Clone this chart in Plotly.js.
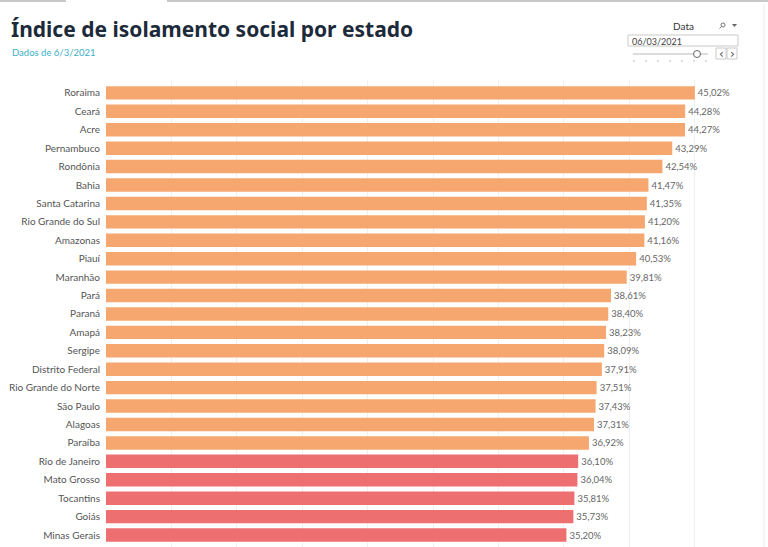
<!DOCTYPE html>
<html>
<head>
<meta charset="utf-8">
<script src="https://cdn.plot.ly/plotly-3.0.1.min.js"></script>
<style>html,body{margin:0;padding:0;background:#fff;}#chart{width:768px;height:547px;}</style>
</head>
<body>
<div id="chart"></div>
<script>
const states = ["Roraima","Ceará","Acre","Pernambuco","Rondônia","Bahia","Santa Catarina","Rio Grande do Sul","Amazonas","Piauí","Maranhão","Pará","Paraná","Amapá","Sergipe","Distrito Federal","Rio Grande do Norte","São Paulo","Alagoas","Paraíba","Rio de Janeiro","Mato Grosso","Tocantins","Goiás","Minas Gerais"];
const isolamento = [45.02,44.28,44.27,43.29,42.54,41.47,41.35,41.20,41.16,40.53,39.81,38.61,38.40,38.23,38.09,37.91,37.51,37.43,37.31,36.92,36.10,36.04,35.81,35.73,35.20];
const titleText = "Índice de isolamento social por estado";
const subtitleText = "Dados de 6/3/2021";
const filterLabel = "Data";
const filterValue = "06/03/2021";

const W = 768, H = 547;
const L = 106, R = 8, T = 80, B = 0;
const pw = W - L - R, ph = H - T - B;
const px = x => (x - L) / pw;
const py = y => (H - B - y) / ph;

const orange = "#F5A76F", red = "#EE6F70";
const colors = isolamento.map(v => v >= 36.5 ? orange : red);
const labels = isolamento.map(v => v.toFixed(2).replace('.', ',') + '%');

const trace = {
  type: 'bar', orientation: 'h',
  x: isolamento, y: states,
  marker: {color: colors, line: {width: 0}},
  text: labels, textposition: 'outside', cliponaxis: false,
  textfont: {family: 'Lato, "Noto Sans", sans-serif', size: 9.5, color: '#666'},
  hoverinfo: 'skip'
};

const shapes = [
  {type:'rect', xref:'paper', yref:'paper', x0:px(0), x1:px(66), y0:py(2), y1:py(0), fillcolor:'#c8c8c8', line:{width:0}},
  {type:'rect', xref:'paper', yref:'paper', x0:px(167), x1:px(768), y0:py(2), y1:py(0), fillcolor:'#c8c8c8', line:{width:0}},
  {type:'line', xref:'paper', yref:'paper', x0:px(764), x1:px(764), y0:py(547), y1:py(4), line:{color:'#ececec', width:1}},
  {type:'rect', xref:'paper', yref:'paper', x0:px(628), x1:px(738), y0:py(46), y1:py(35), fillcolor:'#fff', line:{color:'#c9c9c9', width:1}},
  {type:'line', xref:'paper', yref:'paper', x0:px(633), x1:px(708), y0:py(54), y1:py(54), line:{color:'#d0d0d0', width:1.5}},
  {type:'circle', xref:'paper', yref:'paper', x0:px(693.5), x1:px(700.5), y0:py(57.5), y1:py(50.5), fillcolor:'#fff', line:{color:'#666', width:1}},
  {type:'rect', xref:'paper', yref:'paper', x0:px(716), x1:px(726), y0:py(59), y1:py(48), fillcolor:'#fff', line:{color:'#c9c9c9', width:1}},
  {type:'rect', xref:'paper', yref:'paper', x0:px(727), x1:px(737), y0:py(59), y1:py(48), fillcolor:'#fff', line:{color:'#c9c9c9', width:1}},
  {type:'path', xref:'paper', yref:'paper', path:`M ${px(732)} ${py(24)} L ${px(737)} ${py(24)} L ${px(734.5)} ${py(27)} Z`, fillcolor:'#666', line:{width:0}},
  // magnifier
  {type:'circle', xref:'paper', yref:'paper', x0:px(721), x1:px(725), y0:py(27), y1:py(23), fillcolor:'rgba(0,0,0,0)', line:{color:'#777', width:1}},
  {type:'line', xref:'paper', yref:'paper', x0:px(721.5), x1:px(719.5), y0:py(26.5), y1:py(28.5), line:{color:'#777', width:1}}
];
[634, 646, 658, 670, 682, 694, 706].forEach(x => shapes.push({type:'line', xref:'paper', yref:'paper', x0:px(x), x1:px(x), y0:py(60), y1:py(62), line:{color:'#bbb', width:1}}));

const annotations = [
  {text: titleText, xref:'paper', yref:'paper', x:px(9), y:py(13), xanchor:'left', yanchor:'top', showarrow:false,
   font:{family:'"Noto Sans", Lato, sans-serif', size:21, color:'#1c2a3a', weight:'bold'}},
  {text: subtitleText, xref:'paper', yref:'paper', x:px(10), y:py(45), xanchor:'left', yanchor:'top', showarrow:false,
   font:{family:'Lato, "Noto Sans", sans-serif', size:9.5, color:'#3bafc8'}},
  {text: filterLabel, xref:'paper', yref:'paper', x:px(683), y:py(18), xanchor:'center', yanchor:'top', showarrow:false,
   font:{family:'Lato, "Noto Sans", sans-serif', size:10, color:'#333'}},
  {text: filterValue, xref:'paper', yref:'paper', x:px(630), y:py(34.5), xanchor:'left', yanchor:'top', showarrow:false,
   font:{family:'Lato, "Noto Sans", sans-serif', size:9, color:'#444'}},
  {text: '‹', xref:'paper', yref:'paper', x:px(721), y:py(53.5), xanchor:'center', yanchor:'middle', showarrow:false,
   font:{family:'"DejaVu Sans", sans-serif', size:12, color:'#555'}},
  {text: '›', xref:'paper', yref:'paper', x:px(732), y:py(53.5), xanchor:'center', yanchor:'middle', showarrow:false,
   font:{family:'"DejaVu Sans", sans-serif', size:12, color:'#555'}}
];

const layout = {
  width: W, height: H,
  margin: {l: L, r: R, t: T, b: B, pad: 0},
  paper_bgcolor: '#fff', plot_bgcolor: '#fff',
  showlegend: false,
  bargap: 0.27,
  xaxis: {range: [0, 50], dtick: 5, showgrid: true, gridcolor: '#f0f0f0', gridwidth: 1,
          zeroline: false, showticklabels: false, showline: false, fixedrange: true},
  yaxis: {type: 'category', categoryorder: 'array', categoryarray: states,
          range: [24.65, -0.7], showgrid: false, zeroline: false, showline: false,
          ticks: '', ticklabelstandoff: 5,
          tickfont: {family: 'Lato, "Noto Sans", sans-serif', size: 10, color: '#555'}},
  shapes: shapes,
  annotations: annotations,
  font: {family: 'Lato, "Noto Sans", sans-serif'}
};

Plotly.newPlot('chart', [trace], layout, {displayModeBar: false, staticPlot: true});
</script>
</body>
</html>
